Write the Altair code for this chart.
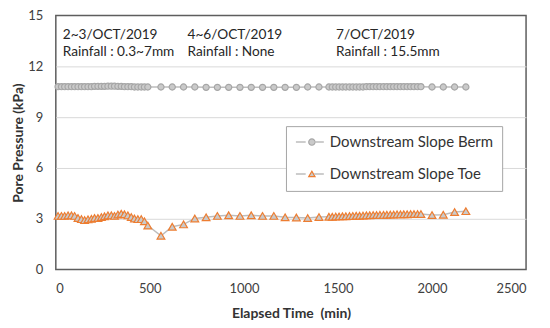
import altair as alt
import pandas as pd

BERM = "Downstream Slope Berm"
TOE = "Downstream Slope Toe"

times = [12, 30, 47, 65, 83, 100, 118, 136, 153, 171, 189, 206, 224, 242,
         259, 277, 295, 312, 330, 348, 365, 383, 401, 418, 436, 454, 471, 489,
         559, 619, 679, 739, 799, 859, 919, 979, 1039, 1099, 1159, 1219, 1279, 1339, 1399,
         1452, 1470, 1488, 1506, 1524, 1542, 1561, 1579, 1597, 1615, 1633, 1651, 1669, 1687,
         1705, 1723, 1742, 1760, 1778, 1796, 1814, 1832, 1850, 1868, 1886, 1904, 1923, 1941,
         2000, 2060, 2120, 2180]

berm = [10.8, 10.8, 10.8, 10.8, 10.8, 10.8, 10.8, 10.8, 10.8, 10.8, 10.8, 10.82, 10.82, 10.82,
        10.82, 10.83, 10.83, 10.83, 10.82, 10.82, 10.8, 10.8, 10.8, 10.78, 10.78, 10.78, 10.78, 10.78,
        10.78, 10.78, 10.78, 10.78, 10.76, 10.76, 10.76, 10.76, 10.76, 10.76, 10.76, 10.76, 10.76, 10.78, 10.78,
        10.78, 10.78, 10.78, 10.78, 10.78, 10.78, 10.78, 10.78, 10.78, 10.78, 10.78, 10.8, 10.8, 10.8,
        10.8, 10.8, 10.8, 10.8, 10.8, 10.8, 10.8, 10.8, 10.8, 10.8, 10.8, 10.8, 10.8, 10.8,
        10.78, 10.78, 10.78, 10.78]

toe = [3.17, 3.17, 3.17, 3.2, 3.2, 3.17, 3.05, 2.98, 2.92, 2.97, 3.0, 3.05, 3.05, 3.1,
       3.15, 3.2, 3.2, 3.17, 3.25, 3.3, 3.27, 3.2, 3.1, 3.02, 2.98, 2.98, 2.85, 2.6,
       2.0, 2.53, 2.67, 3.02, 3.09, 3.17, 3.21, 3.17, 3.21, 3.17, 3.17, 3.09, 3.08, 3.04, 3.1,
       3.12, 3.12, 3.13, 3.14, 3.15, 3.15, 3.16, 3.17, 3.18, 3.18, 3.19, 3.2, 3.21, 3.22,
       3.22, 3.23, 3.23, 3.24, 3.25, 3.25, 3.26, 3.26, 3.27, 3.27, 3.28, 3.28, 3.28, 3.28,
       3.22, 3.24, 3.4, 3.45]

x_ticks = [0, 500, 1000, 1500, 2000, 2500]
y_ticks = [0, 3, 6, 9, 12, 15]

note_x = [37, 37, 700, 700, 1490, 1490]
note_y = [13.83, 12.84, 13.83, 12.84, 13.83, 12.84]
note_text = ["2~3/OCT/2019", "Rainfall : 0.3~7mm", "4~6/OCT/2019", "Rainfall : None",
             "7/OCT/2019", "Rainfall : 15.5mm"]

df = pd.DataFrame({
    "time": times + times,
    "value": berm + toe,
    "series": [BERM] * len(times) + [TOE] * len(times),
})
df["series_line"] = df["series"]
notes = pd.DataFrame({"x": note_x, "y": note_y, "text": note_text})

FONT = "Lato"

x_enc = alt.X("time:Q", scale=alt.Scale(domain=[0, 2500], nice=False),
              axis=alt.Axis(values=x_ticks, title="Elapsed Time\u00a0 (min)", grid=False,
                            labelPadding=13, titlePadding=11, format="d"))
y_enc = alt.Y("value:Q", scale=alt.Scale(domain=[0, 15], nice=False),
              axis=alt.Axis(values=y_ticks, title="Pore Pressure (kPa)", grid=True,
                            gridColor={"condition": {"test": "datum.value === 0 || datum.value === 15",
                                                     "value": "transparent"},
                                       "value": "#d9d9d9"},
                            labelPadding=13, titlePadding=2))

# legend with marker symbols: carries the white box and the labels
legend_marks = alt.Legend(
    orient="none", legendX=231, legendY=111, title=None, zindex=1,
    fillColor="white", strokeColor="#a6a6a6", padding=8.5, rowPadding=16,
    symbolOffset=10, symbolSize=40, symbolStrokeWidth=1.2, symbolFillColor="#cacaca",
    labelOffset=10.5, clipHeight=15,
    labelFont=FONT, labelFontSize=15, labelColor="#333333", labelLimit=300,
)
# legend with line pieces on either side of the marker (transparent, drawn on top)
legend_lines = alt.Legend(
    orient="none", legendX=231, legendY=111, title=None, zindex=2,
    padding=8.5, rowPadding=16,
    symbolType="M-1,0L-0.3,0M0.3,0L1,0", symbolOffset=0.5, symbolSize=784, symbolStrokeWidth=1.5,
    labelOffset=5, clipHeight=15, labelExpr="''",
    labelFont=FONT, labelFontSize=15, labelColor="#333333", labelLimit=300, labelOpacity=0,
)

lines = alt.Chart(df).mark_line(strokeWidth=1.5).encode(
    x=x_enc, y=y_enc,
    color=alt.Color("series_line:N", scale=alt.Scale(range=["#bdbdbd", "#bdbdbd"]),
                    legend=legend_lines))

points = alt.Chart(df).mark_point(filled=True, fill="#cacaca", strokeWidth=1.2, opacity=1).encode(
    x=x_enc, y=y_enc,
    shape=alt.Shape("series:N", scale=alt.Scale(domain=[BERM, TOE], range=["circle", "triangle-up"]),
                    legend=legend_marks),
    stroke=alt.Stroke("series:N", scale=alt.Scale(domain=[BERM, TOE], range=["#a6a6a6", "#ed7d31"]),
                      legend=legend_marks),
    size=alt.Size("series:N", scale=alt.Scale(range=[38, 60]), legend=None),
)

texts = alt.Chart(notes).mark_text(align="left", baseline="middle", font=FONT, fontSize=13.7,
                                   color="#262626").encode(
    x=alt.X("x:Q", scale=alt.Scale(domain=[0, 2500], nice=False)),
    y=alt.Y("y:Q", scale=alt.Scale(domain=[0, 15], nice=False)),
    text="text:N")

chart = alt.layer(lines, points, texts).properties(
    width=472, height=255,
    autosize=alt.AutoSizeParams(type="none"),
    padding={"left": 48, "top": 7, "right": 16, "bottom": 50},
).configure_view(stroke="#5e5e5e", strokeWidth=1.5).configure_axis(
    labelFont=FONT, labelFontSize=13, labelColor="#404040",
    titleFont=FONT, titleFontSize=14, titleFontWeight="bold", titleColor="#333333",
    domain=False, ticks=False, tickSize=0,
)

chart.save("out.html", embed_options={"renderer": "svg", "actions": False})
